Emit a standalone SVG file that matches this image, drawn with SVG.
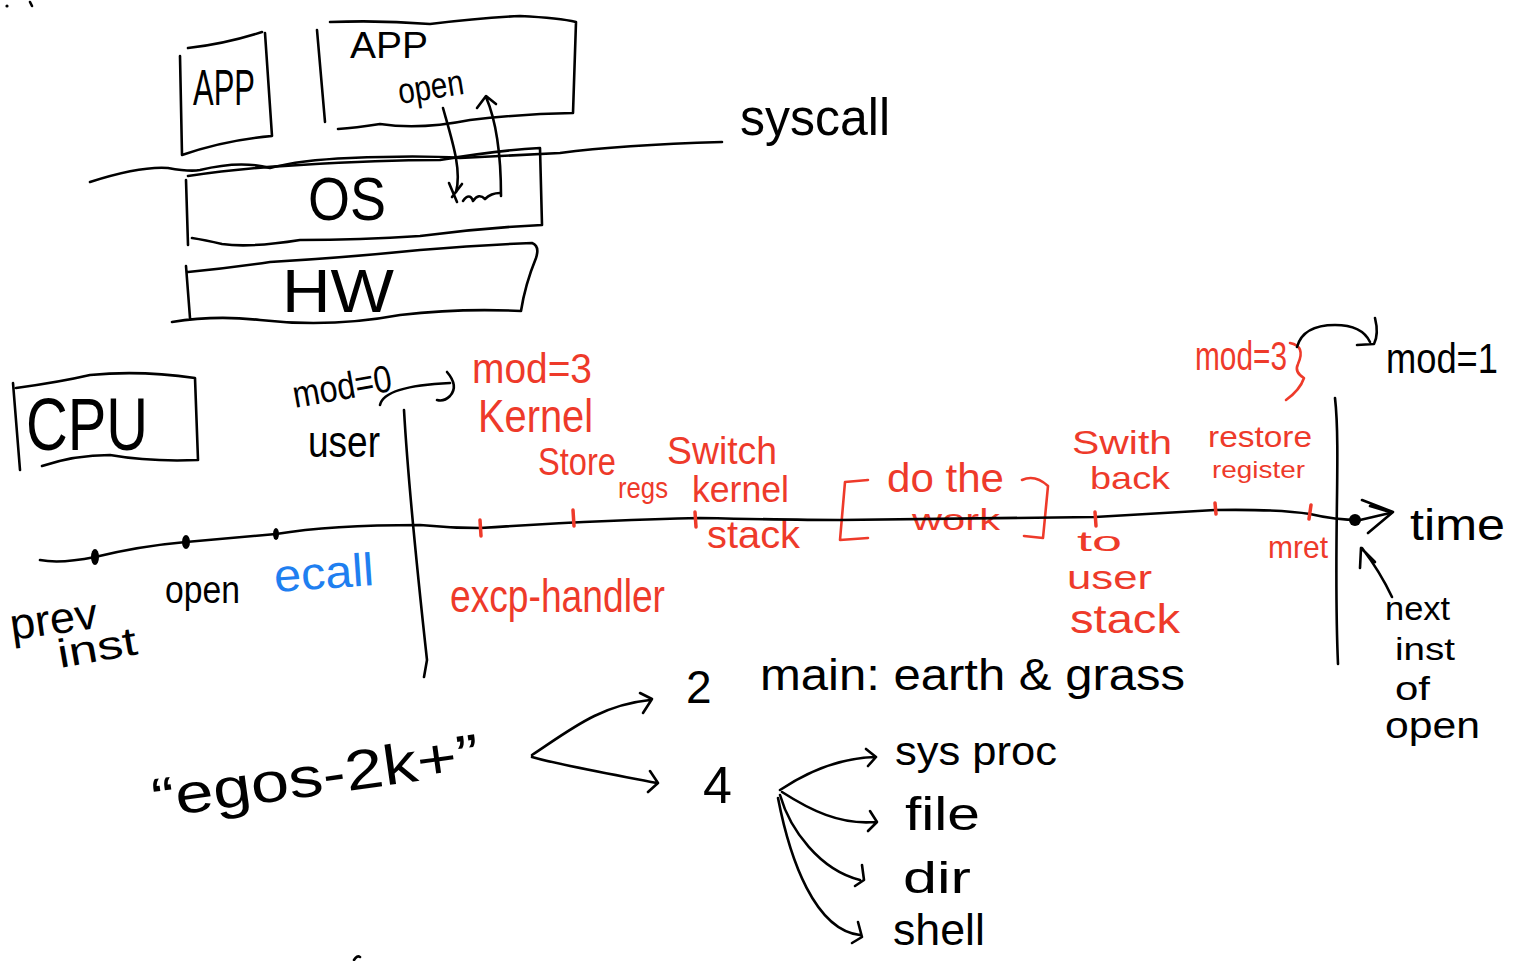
<svg xmlns="http://www.w3.org/2000/svg" width="1517" height="961" viewBox="0 0 1517 961">
  <style>
    .ink { fill: none; stroke: #000; stroke-width: 2.6; stroke-linecap: round; stroke-linejoin: round; }
    .rink { fill: none; stroke: #ee3a2a; stroke-width: 2.6; stroke-linecap: round; stroke-linejoin: round; }
    .tick { fill: none; stroke: #ee3a2a; stroke-width: 3.5; stroke-linecap: round; }
    .dot { fill: #000; }
    text { font-family: "Liberation Sans", "DejaVu Sans", sans-serif; font-weight: normal; }
    .k { fill: #000; }
    .r { fill: #ee3a2a; }
    .b { fill: #1f7ff0; }
  </style>
  <rect width="1517" height="961" fill="#fff"/>

  <!-- stray pen marks -->
  <g id="marks">
    <circle cx="7" cy="6" r="1.6" class="dot"/>
    <path class="ink" d="M 30 2 L 32 6"/>
    <path class="ink" d="M 354 960 Q 357 955 360 957"/>
  </g>

  <!-- layered system stack -->
  <g id="app-small">
    <path class="ink" d="M 188 48 Q 225 44 262 32 M 180 56 L 182 155 Q 225 140 272 136 L 265 33"/>
    <text class="k" x="193" y="105" font-size="50" textLength="62" lengthAdjust="spacingAndGlyphs">APP</text>
  </g>
  <g id="app-large">
    <path class="ink" d="M 330 22 Q 380 20 430 24 Q 480 18 520 16 Q 560 18 576 22 L 573 113 Q 520 114 470 120 Q 420 130 380 124 Q 355 128 338 129 M 317 30 L 325 122"/>
    <text class="k" x="350" y="58" font-size="36" textLength="78" lengthAdjust="spacingAndGlyphs">APP</text>
    <text class="k" x="400" y="104" font-size="36" textLength="66" lengthAdjust="spacingAndGlyphs" transform="rotate(-9 400 104)">open</text>
  </g>
  <g id="syscall">
    <path class="ink" d="M 90 182 Q 140 166 168 168 Q 190 172 200 170 Q 240 160 270 168 Q 300 160 350 158 Q 420 155 460 158 Q 520 155 560 153 Q 620 145 722 142"/>
    <text class="k" x="740" y="135" font-size="52" textLength="150" lengthAdjust="spacingAndGlyphs">syscall</text>
  </g>
  <g id="os">
    <path class="ink" d="M 188 176 Q 240 168 300 165 Q 380 160 440 160 Q 500 150 540 148 L 542 225 Q 480 228 420 236 Q 360 240 300 240 Q 250 248 222 244 Q 205 240 192 238 M 186 180 L 188 245"/>
    <text class="k" x="308" y="220" font-size="62" textLength="78" lengthAdjust="spacingAndGlyphs">OS</text>
  </g>
  <g id="hw">
    <path class="ink" d="M 188 272 Q 230 268 270 262 Q 340 258 420 250 Q 480 245 532 243 Q 540 246 536 258 Q 525 285 521 311 Q 460 308 400 315 Q 330 328 260 320 Q 215 315 172 322 M 186 266 L 190 318"/>
    <text class="k" x="282" y="312" font-size="62" textLength="112" lengthAdjust="spacingAndGlyphs">HW</text>
  </g>

  <!-- CPU timeline -->
  <g id="cpu">
    <path class="ink" d="M 16 388 Q 60 382 90 375 Q 140 370 195 378 L 198 460 Q 150 462 110 455 Q 75 455 42 466 M 13 383 L 20 470"/>
    <text class="k" x="26" y="450" font-size="74" textLength="122" lengthAdjust="spacingAndGlyphs">CPU</text>
  </g>

  <g id="user-side">
    <text class="k" x="295" y="408" font-size="38" textLength="100" lengthAdjust="spacingAndGlyphs" transform="rotate(-10 295 408)">mod=0</text>
    <text class="k" x="308" y="457" font-size="44" textLength="72" lengthAdjust="spacingAndGlyphs">user</text>
  </g>
  <g id="kernel-side">
    <text class="r" x="472" y="383" font-size="42" textLength="120" lengthAdjust="spacingAndGlyphs">mod=3</text>
    <text class="r" x="478" y="432" font-size="46" textLength="115" lengthAdjust="spacingAndGlyphs">Kernel</text>
  </g>

  <g id="instr-prev">
    <text class="k" x="12" y="640" font-size="44" textLength="88" lengthAdjust="spacingAndGlyphs" transform="rotate(-8 12 640)">prev</text>
    <text class="k" x="60" y="668" font-size="40" textLength="80" lengthAdjust="spacingAndGlyphs" transform="rotate(-10 60 668)">inst</text>
  </g>
  <g id="instr-open">
    <text class="k" x="165" y="603" font-size="38" textLength="75" lengthAdjust="spacingAndGlyphs">open</text>
  </g>
  <g id="instr-ecall">
    <text class="b" x="275" y="592" font-size="46" textLength="100" lengthAdjust="spacingAndGlyphs" transform="rotate(-4 275 592)">ecall</text>
  </g>
  <g id="excp-handler">
    <text class="r" x="450" y="612" font-size="46" textLength="215" lengthAdjust="spacingAndGlyphs">excp-handler</text>
  </g>
  <g id="store-regs">
    <text class="r" x="538" y="475" font-size="38" textLength="78" lengthAdjust="spacingAndGlyphs">Store</text>
    <text class="r" x="618" y="498" font-size="30" textLength="50" lengthAdjust="spacingAndGlyphs">regs</text>
  </g>
  <g id="switch-kernel-stack">
    <text class="r" x="667" y="464" font-size="38" textLength="110" lengthAdjust="spacingAndGlyphs">Switch</text>
    <text class="r" x="692" y="502" font-size="36" textLength="97" lengthAdjust="spacingAndGlyphs">kernel</text>
    <text class="r" x="707" y="548" font-size="38" textLength="93" lengthAdjust="spacingAndGlyphs">stack</text>
  </g>
  <g id="do-the-work">
    <path class="rink" d="M 868 480 L 845 482 L 840 540 L 868 538"/>
    <text class="r" x="887" y="492" font-size="40" textLength="117" lengthAdjust="spacingAndGlyphs">do the</text>
    <text class="r" x="912" y="530" font-size="30" textLength="88" lengthAdjust="spacingAndGlyphs">work</text>
    <path class="rink" d="M 1022 480 Q 1035 474 1048 486 L 1043 538 L 1024 536"/>
  </g>
  <g id="switch-back">
    <text class="r" x="1072" y="454" font-size="34" textLength="100" lengthAdjust="spacingAndGlyphs">Swith</text>
    <text class="r" x="1090" y="489" font-size="32" textLength="80" lengthAdjust="spacingAndGlyphs">back</text>
    <text class="r" x="1077" y="551" font-size="28" textLength="45" lengthAdjust="spacingAndGlyphs">to</text>
    <text class="r" x="1067" y="589" font-size="34" textLength="85" lengthAdjust="spacingAndGlyphs">user</text>
    <text class="r" x="1070" y="633" font-size="40" textLength="110" lengthAdjust="spacingAndGlyphs">stack</text>
  </g>
  <g id="restore-register">
    <text class="r" x="1208" y="447" font-size="30" textLength="104" lengthAdjust="spacingAndGlyphs">restore</text>
    <text class="r" x="1212" y="478" font-size="24" textLength="93" lengthAdjust="spacingAndGlyphs">register</text>
  </g>
  <g id="mret">
    <text class="r" x="1268" y="558" font-size="32" textLength="60" lengthAdjust="spacingAndGlyphs">mret</text>
  </g>
  <g id="mode-after">
    <text class="r" x="1195" y="370" font-size="40" textLength="92" lengthAdjust="spacingAndGlyphs">mod=3</text>
    <path class="rink" d="M 1290 343 Q 1306 346 1298 364 Q 1294 372 1304 378 Q 1300 390 1286 400"/>
    <text class="k" x="1386" y="373" font-size="42" textLength="112" lengthAdjust="spacingAndGlyphs">mod=1</text>
  </g>
  <g id="time">
    <text class="k" x="1410" y="540" font-size="44" textLength="95" lengthAdjust="spacingAndGlyphs">time</text>
  </g>
  <g id="next-inst">
    <text class="k" x="1385" y="620" font-size="34" textLength="65" lengthAdjust="spacingAndGlyphs">next</text>
    <text class="k" x="1395" y="660" font-size="32" textLength="60" lengthAdjust="spacingAndGlyphs">inst</text>
    <text class="k" x="1395" y="700" font-size="34" textLength="35" lengthAdjust="spacingAndGlyphs">of</text>
    <text class="k" x="1385" y="738" font-size="36" textLength="95" lengthAdjust="spacingAndGlyphs">open</text>
  </g>

  <!-- egos-2k+ breakdown -->
  <g id="egos">
    <text class="k" x="155" y="818" font-size="56" textLength="330" lengthAdjust="spacingAndGlyphs" transform="rotate(-8 155 818)">“egos-2k+”</text>
  </g>
  <g id="layer-2">
    <text class="k" x="686" y="703" font-size="46">2</text>
    <text class="k" x="760" y="690" font-size="44" textLength="425" lengthAdjust="spacingAndGlyphs">main: earth &amp; grass</text>
  </g>
  <g id="layer-4">
    <text class="k" x="703" y="803" font-size="52">4</text>
  </g>
  <g id="sys-proc">
    <text class="k" x="895" y="765" font-size="40" textLength="162" lengthAdjust="spacingAndGlyphs">sys proc</text>
  </g>
  <g id="file">
    <text class="k" x="905" y="830" font-size="46" textLength="75" lengthAdjust="spacingAndGlyphs">file</text>
  </g>
  <g id="dir">
    <text class="k" x="903" y="893" font-size="44" textLength="68" lengthAdjust="spacingAndGlyphs">dir</text>
  </g>
  <g id="shell">
    <text class="k" x="893" y="945" font-size="44" textLength="92" lengthAdjust="spacingAndGlyphs">shell</text>
  </g>

  <g id="connectors">
    <!-- syscall round trip into the OS -->
    <path class="ink" d="M 443 108 C 452 140 462 170 456 192"/>
    <path class="ink" d="M 449 183 L 457 202 M 452 197 L 462 184"/>
    <path class="ink" d="M 463 201 c 4 -6 8 -6 10 0 c 4 -6 8 -6 12 -2 c 4 -4 10 -6 15 -6"/>
    <path class="ink" d="M 501 196 C 501 165 498 125 486 97 M 477 108 L 486 96 L 496 104"/>

    <!-- timeline -->
    <path class="ink" d="M 40 560 Q 60 564 95 557 Q 140 546 186 542 L 276 534 Q 330 525 420 525 Q 450 528 480 528 Q 600 520 700 518 Q 800 520 840 520 L 1095 517 Q 1180 512 1215 510 Q 1280 509 1310 514 Q 1335 520 1360 520 L 1390 513"/>
    <path class="ink" d="M 1362 500 L 1393 512 L 1368 533 M 1370 506 L 1390 512"/>
    <ellipse cx="95" cy="557" rx="4" ry="8" class="dot"/>
    <ellipse cx="186" cy="542" rx="4" ry="7" class="dot"/>
    <ellipse cx="276" cy="534" rx="3" ry="6" class="dot"/>
    <circle cx="1355" cy="520" r="6" class="dot"/>
    <path class="tick" d="M 480 520 L 481 536 M 573 510 L 574 526 M 695 512 L 696 527 M 1095 512 L 1096 526 M 1215 503 L 1216 514 M 1311 505 L 1309 519"/>

    <!-- user/kernel boundaries -->
    <path class="ink" d="M 404 410 C 408 480 416 560 427 660 L 424 677"/>
    <path class="ink" d="M 1335 398 C 1341 450 1333 550 1338 664"/>

    <!-- mode change arrows -->
    <path class="ink" d="M 380 405 Q 384 386 450 383 M 447 372 Q 459 386 450 396 Q 444 402 437 400"/>
    <path class="ink" d="M 1297 347 Q 1303 325 1335 325 Q 1362 325 1370 342 M 1375 318 Q 1379 334 1374 344 L 1357 345"/>

    <!-- pointer to next instruction -->
    <path class="ink" d="M 1392 597 C 1384 580 1375 565 1362 548 M 1375 562 L 1361 548 L 1360 568"/>

    <!-- egos-2k+ branches -->
    <path class="ink" d="M 532 755 C 570 730 600 705 650 700 M 640 693 L 652 699 L 643 713"/>
    <path class="ink" d="M 532 757 C 560 765 600 772 657 783 M 650 771 L 658 783 L 648 792"/>
    <path class="ink" d="M 780 790 C 810 770 840 758 875 757 M 866 749 L 876 757 L 868 766"/>
    <path class="ink" d="M 782 792 C 810 810 840 825 875 822 M 870 811 L 877 822 L 868 831"/>
    <path class="ink" d="M 780 795 C 790 830 820 870 860 880 M 862 865 L 864 880 L 855 886"/>
    <path class="ink" d="M 778 798 C 790 860 815 930 860 935 M 858 922 L 862 937 L 852 943"/>
  </g>
</svg>
